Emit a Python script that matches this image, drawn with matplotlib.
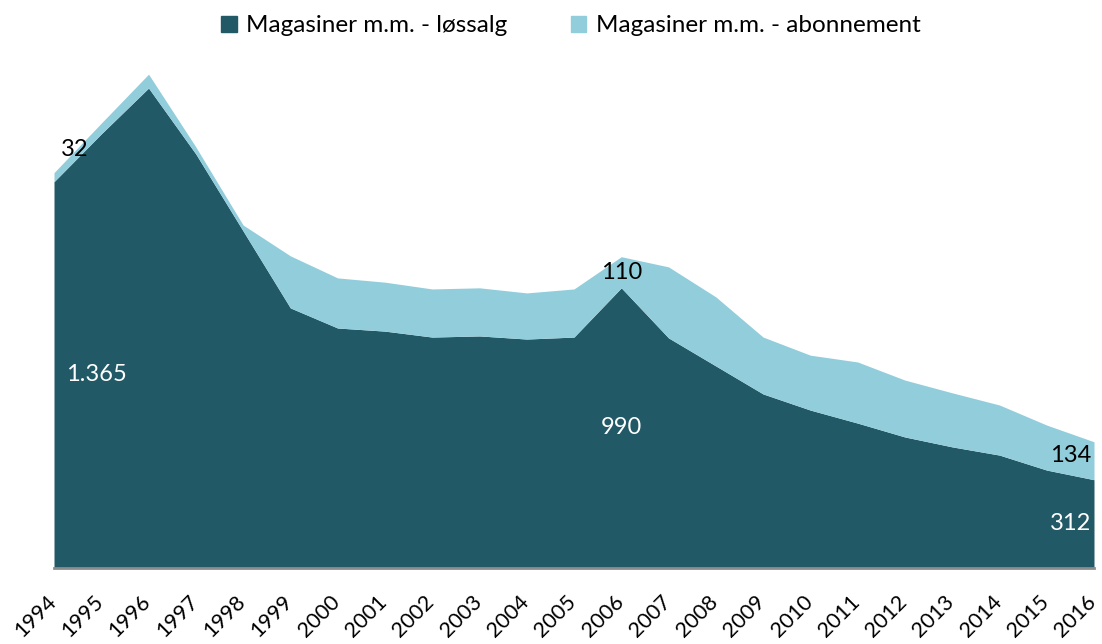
import numpy as np
import matplotlib
matplotlib.use('Agg')
import matplotlib.pyplot as plt
import matplotlib.transforms as mtransforms
from matplotlib.patches import Patch

plt.rcParams['font.family'] = ['Lato', 'DejaVu Sans']

years = list(range(1994, 2017))
lossalg = [1365, 1534, 1696, 1463, 1191, 919, 848, 837, 816, 820, 809, 816,
           990, 813, 714, 615, 558, 512, 463, 428, 399, 346, 312]
abonnement = [32, 38, 49, 25, 21, 184, 177, 173, 170, 170, 163, 170,
              110, 251, 244, 201, 194, 216, 201, 191, 177, 159, 134]
series_names = ['Magasiner m.m. - løssalg', 'Magasiner m.m. - abonnement']

dark = '#225966'
light = '#92CDDC'

fig = plt.figure(figsize=(11.02, 6.44), dpi=100)
ax = fig.add_axes([54 / 1102, 1 - 568 / 644, 1040 / 1102, 508 / 644])

x = np.array(years)
low = np.array(lossalg)
high = low + np.array(abonnement)
ax.fill_between(x, 0, low, color=dark, linewidth=0)
ax.fill_between(x, low, high, color=light, linewidth=0)

ax.set_xlim(years[0], years[-1])
ax.set_ylim(0, 1795)
ax.set_yticks([])
ax.set_xticks(years)
ax.set_xticklabels([str(y) for y in years], rotation=45, ha='right',
                   rotation_mode='anchor', fontsize=15.5)
ax.tick_params(axis='x', length=0, pad=17)
# move the rotated labels a little left so their right end sits near the tick
shift = mtransforms.ScaledTranslation(-8 / 100, 0, fig.dpi_scale_trans)
for t in ax.get_xticklabels():
    t.set_transform(t.get_transform() + shift)
for side in ['top', 'right', 'left']:
    ax.spines[side].set_visible(False)
ax.spines['bottom'].set_color('#8c8c8c')
ax.spines['bottom'].set_linewidth(2)

# data labels
lab = dict(fontsize=17)
ax.text(years[0] + 0.25, lossalg[0] / 2, '1.365', color='white', ha='left', va='center', **lab)
ax.text(years[0] + 0.15, high[0] + 80, str(abonnement[0]), color='black', ha='left', va='center', **lab)
ax.text(2006, lossalg[12] / 2, str(lossalg[12]), color='white', ha='center', va='center', **lab)
ax.text(2006, lossalg[12] + abonnement[12] / 2, str(abonnement[12]), color='black', ha='center', va='center', **lab)
ax.text(years[-1] - 0.05, lossalg[-1] / 2, str(lossalg[-1]), color='white', ha='right', va='center', **lab)
ax.text(years[-1] - 0.05, lossalg[-1] + abonnement[-1] / 2 + 20, str(abonnement[-1]), color='black', ha='right', va='center', **lab)

handles = [Patch(color=dark), Patch(color=light)]
fig.legend(handles, series_names, loc='upper center', bbox_to_anchor=(0.518, 1.01),
           ncol=2, frameon=False, fontsize=17.5, handlelength=0.65, handleheight=0.65,
           handletextpad=0.4, columnspacing=2.6)

fig.savefig('out.png', dpi=100)
